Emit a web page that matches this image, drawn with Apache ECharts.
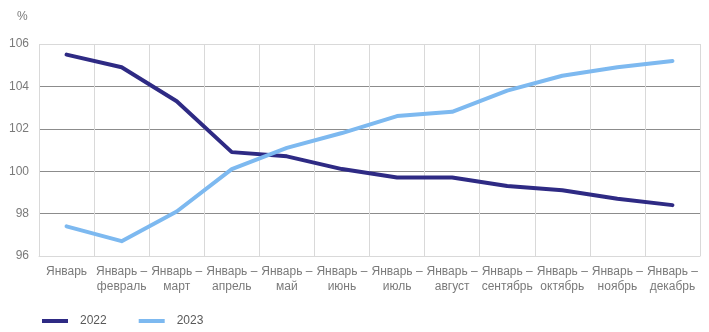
<!DOCTYPE html>
<html>
<head>
<meta charset="utf-8">
<script src="https://cdn.jsdelivr.net/npm/echarts@6/dist/echarts.min.js"></script>
<style>
html,body{margin:0;padding:0;background:#fff;}
#chart{width:709px;height:332px;}
</style>
</head>
<body>
<div id="chart"></div>
<script>
// Period labels (cumulative since January)
const categories = [
  'Январь',
  'Январь –\nфевраль',
  'Январь –\nмарт',
  'Январь –\nапрель',
  'Январь –\nмай',
  'Январь –\nиюнь',
  'Январь –\nиюль',
  'Январь –\nавгуст',
  'Январь –\nсентябрь',
  'Январь –\nоктябрь',
  'Январь –\nноябрь',
  'Январь –\nдекабрь'
];
const seriesNames = ['2022', '2023'];
const values2022 = [105.5, 104.9, 103.3, 100.9, 100.7, 100.1, 99.7, 99.7, 99.3, 99.1, 98.7, 98.4];
const values2023 = [97.4, 96.7, 98.1, 100.1, 101.1, 101.8, 102.6, 102.8, 103.8, 104.5, 104.9, 105.2];
const yTicks = [96, 98, 100, 102, 104, 106];

const font = 'Liberation Sans, Arial, sans-serif';
const chart = echarts.init(document.getElementById('chart'), null, {renderer: 'canvas'});
chart.setOption({
  animation: false,
  textStyle: {fontFamily: font},
  grid: {left: 39, right: 9, top: 44, bottom: 76},
  graphic: [{
    type: 'text', left: 17, top: 11,
    style: {text: '%', font: '12px ' + font, fill: '#7a7a7a'}
  }],
  legend: {
    left: 37, top: 310,
    itemWidth: 26, itemHeight: 4, itemGap: 32,
    icon: 'rect',
    textStyle: {color: '#595959', fontSize: 12, fontFamily: font, padding: [0, 0, 0, 7]},
    data: seriesNames
  },
  xAxis: {
    type: 'category',
    data: categories,
    boundaryGap: true,
    axisLine: {lineStyle: {color: '#d9d9d9', width: 1}},
    axisTick: {show: false},
    splitLine: {show: true, interval: 0, lineStyle: {color: '#d9d9d9', width: 1}},
    axisLabel: {interval: 0, color: '#7a7a7a', fontSize: 12, fontFamily: font, lineHeight: 15, margin: 8}
  },
  yAxis: {
    type: 'value',
    min: yTicks[0], max: yTicks[yTicks.length - 1], interval: 2,
    axisLine: {show: false},
    axisTick: {show: false},
    splitLine: {lineStyle: {color: ['#d9d9d9', '#8c8c8c', '#8c8c8c', '#8c8c8c', '#8c8c8c', '#d9d9d9'], width: 1}},
    axisLabel: {color: '#7a7a7a', fontSize: 12, fontFamily: font, margin: 10}
  },
  series: [
    {
      name: seriesNames[0], type: 'line', data: values2022,
      symbol: 'none', lineStyle: {width: 4, color: '#2e2a84', cap: 'round', join: 'round'},
      itemStyle: {color: '#2e2a84'}
    },
    {
      name: seriesNames[1], type: 'line', data: values2023,
      symbol: 'none', lineStyle: {width: 4, color: '#7db9f0', cap: 'round', join: 'round'},
      itemStyle: {color: '#7db9f0'}
    }
  ]
});
</script>
</body>
</html>
